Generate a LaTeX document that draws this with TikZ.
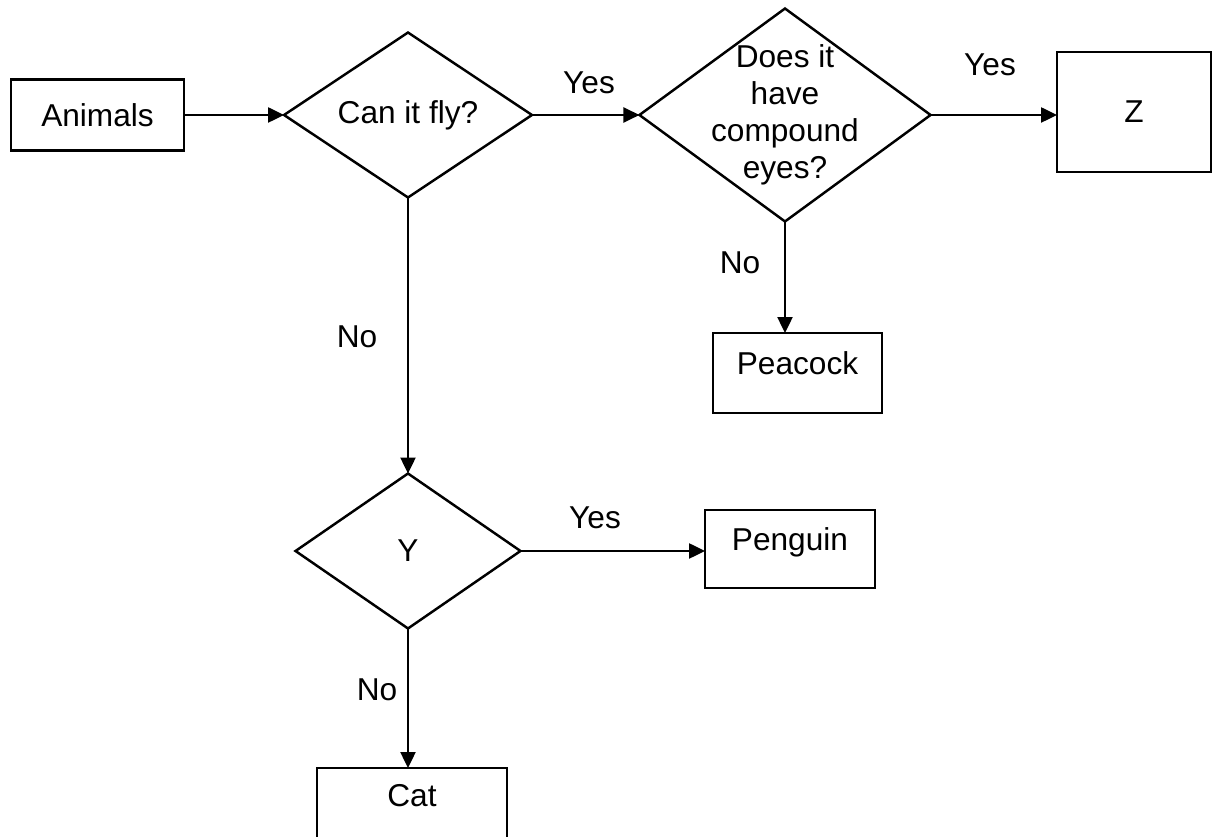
\documentclass[tikz,border=0pt]{standalone}
\usepackage{fontspec}
\setmainfont{Liberation Sans}
\usetikzlibrary{shapes.geometric,arrows.meta}

\begin{document}
\begin{tikzpicture}[
    x=0.02cm, y=-0.02cm,
    font=\fontsize{18}{21}\selectfont,
    box/.style={draw, line width=1.4pt, rectangle, inner sep=0pt, outer sep=0pt},
    leaf/.style={box, text height=0.46cm, text depth=0.4cm},
    query/.style={draw, line width=1.4pt, diamond, aspect=1.4, inner sep=0pt, outer sep=0pt, align=center},
    answer/.style={inner sep=1pt},
    flow/.style={line width=1.4pt, -{Triangle[length=0.32cm,width=0.3cm]}}
]
\useasboundingbox (0,0) rectangle (1215,837);

% Start
\node[box, minimum width=3.46cm, minimum height=1.42cm] (animals) at (97.5,115) {Animals};

% Questions
\node[query, minimum width=4.96cm, minimum height=3.3cm] (fly) at (408,115) {Can it fly?};
\node[query, minimum width=5.8cm, minimum height=4.26cm, inner sep=-0.22cm] (eyes) at (785,115) {Does it\\have\\compound\\eyes?};
\node[query, minimum width=4.5cm, minimum height=3.1cm] (ydec) at (408,551) {Y};

% Outcomes
\node[box, minimum width=3.08cm, minimum height=2.4cm] (z) at (1134,112) {Z};
\node[leaf, minimum width=3.38cm, minimum height=1.6cm] (peacock) at (797.5,373) {Peacock};
\node[leaf, minimum width=3.4cm, minimum height=1.56cm] (penguin) at (790,549) {Penguin};
\node[leaf, minimum width=3.8cm, minimum height=1.5cm] (cat) at (412,805.5) {Cat};

% Answers
\node[answer] (yesfly) at (589,83) {Yes};
\node[answer] (yeseyes) at (990,65) {Yes};
\node[answer] (yesy) at (595,518) {Yes};
\node[answer] (nofly) at (357,337) {No};
\node[answer] (noeyes) at (740,263) {No};
\node[answer] (noy) at (377,690) {No};

% Arrows
\draw[flow] (animals.east) -- (fly.west);
\draw[flow] (fly.east) -- (eyes.west);
\draw[flow] (eyes.east) -- (eyes.east -| z.west);
\draw[flow] (eyes.south) -- (eyes.south |- peacock.north);
\draw[flow] (fly.south) -- (ydec.north);
\draw[flow] (ydec.east) -- (ydec.east -| penguin.west);
\draw[flow] (ydec.south) -- (ydec.south |- cat.north);

\end{tikzpicture}
\end{document}
